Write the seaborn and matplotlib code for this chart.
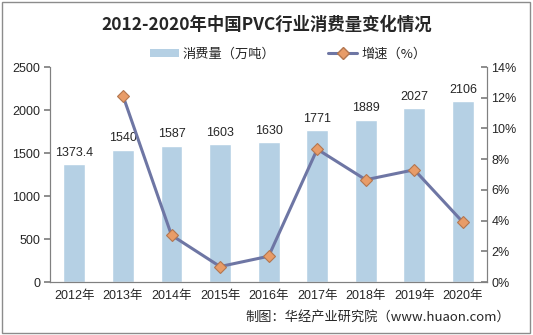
import matplotlib
matplotlib.use("Agg")
import matplotlib.pyplot as plt
import seaborn as sns
import pandas as pd
from matplotlib.patches import Rectangle, Patch
from matplotlib.lines import Line2D

years = ["2012年", "2013年", "2014年", "2015年", "2016年", "2017年", "2018年", "2019年", "2020年"]
consumption = [1373.4, 1540, 1587, 1603, 1630, 1771, 1889, 2027, 2106]
consumption_labels = ["1373.4", "1540", "1587", "1603", "1630", "1771", "1889", "2027", "2106"]
growth_years = ["2013年", "2014年", "2015年", "2016年", "2017年", "2018年", "2019年", "2020年"]
growth = [12.13, 3.05, 1.01, 1.68, 8.65, 6.66, 7.31, 3.90]

left_ticks = [0, 500, 1000, 1500, 2000, 2500]
right_ticks = [0, 2, 4, 6, 8, 10, 12, 14]
right_tick_labels = ["0%", "2%", "4%", "6%", "8%", "10%", "12%", "14%"]

sns.set_theme(style="white")
fonts = ["Liberation Sans", "Noto Sans CJK SC", "DejaVu Sans"]
plt.rcParams["font.family"] = fonts
plt.rcParams["axes.unicode_minus"] = False

bar_color = "#B5D0E4"
line_color = "#6E76A4"
marker_face = "#E89C68"
marker_edge = "#B3764F"
axis_gray = "#808080"
text_color = "#262626"

fig = plt.figure(figsize=(5.33, 3.35), dpi=100)
ax = fig.add_axes([0.094, 0.158, 0.820, 0.642])

df_bar = pd.DataFrame({"year": years, "value": consumption})
sns.barplot(data=df_bar, x="year", y="value", order=years, color=bar_color,
            saturation=1, width=0.45, ax=ax, zorder=2)

ax.set_xlim(-0.5, len(years) - 0.5)
ax.set_ylim(0, 2500)
ax.set_yticks(left_ticks)
ax.set_yticklabels([str(t) for t in left_ticks])
ax.set_xlabel("")
ax.set_ylabel("")

for i, (v, lab) in enumerate(zip(consumption, consumption_labels)):
    ax.text(i, v + 60, lab, ha="center", va="bottom", fontsize=9,
            color=text_color, family=fonts)

ax2 = ax.twinx()
df_line = pd.DataFrame({"pos": [years.index(y) for y in growth_years], "rate": growth})
sns.lineplot(data=df_line, x="pos", y="rate", ax=ax2, color=line_color,
             linewidth=2.2, marker="D", markersize=6.5,
             markerfacecolor=marker_face, markeredgecolor=marker_edge,
             markeredgewidth=0.8, zorder=3)
ax2.set_ylim(0, 14)
ax2.set_yticks(right_ticks)
ax2.set_yticklabels(right_tick_labels)
ax2.set_xlim(-0.5, len(years) - 0.5)
ax2.set_xlabel("")
ax2.set_ylabel("")

for a in (ax, ax2):
    a.spines["top"].set_visible(False)
    for s in ("left", "right", "bottom"):
        a.spines[s].set_color(axis_gray)
        a.spines[s].set_linewidth(0.8)
    a.grid(False)

ax.tick_params(axis="y", direction="out", length=4, color=axis_gray, labelsize=9,
               labelcolor=text_color, pad=3, left=True)
ax.tick_params(axis="x", length=0, labelsize=9, labelcolor=text_color, pad=6)
ax2.tick_params(axis="y", direction="in", length=4, color=axis_gray, labelsize=9,
                labelcolor=text_color, pad=3, right=True)
for t in ax.get_xticklabels() + ax.get_yticklabels() + ax2.get_yticklabels():
    t.set_family(fonts)

fig.text(0.5, 0.925, "2012-2020年中国PVC行业消费量变化情况", ha="center", va="center",
         fontsize=12.5, fontweight="bold", color=text_color,
         family=["Noto Sans CJK SC", "DejaVu Sans"])

handles = [
    Patch(facecolor=bar_color, edgecolor="none"),
    Line2D([0], [0], color=line_color, linewidth=2.2, marker="D", markersize=6,
           markerfacecolor=marker_face, markeredgecolor=marker_edge),
]
fig.legend(handles, ["消费量（万吨）", "增速（%）"], loc="center",
           bbox_to_anchor=(0.54, 0.838), ncol=2, frameon=False, fontsize=9.5,
           handlelength=2.2, handleheight=0.6, columnspacing=4.0, handletextpad=0.3,
           prop={"family": ["Noto Sans CJK SC", "DejaVu Sans"], "size": 9.5})

fig.text(0.958, 0.052, "制图：华经产业研究院（www.huaon.com）", ha="right", va="center",
         fontsize=9.5, color=text_color, family=["Noto Sans CJK SC", "DejaVu Sans"])

fig.patches.append(Rectangle((0.004, 0.006), 0.991, 0.988, transform=fig.transFigure,
                             fill=False, edgecolor="#8C8C8C", linewidth=1.0))

fig.savefig("out.png", dpi=100)
